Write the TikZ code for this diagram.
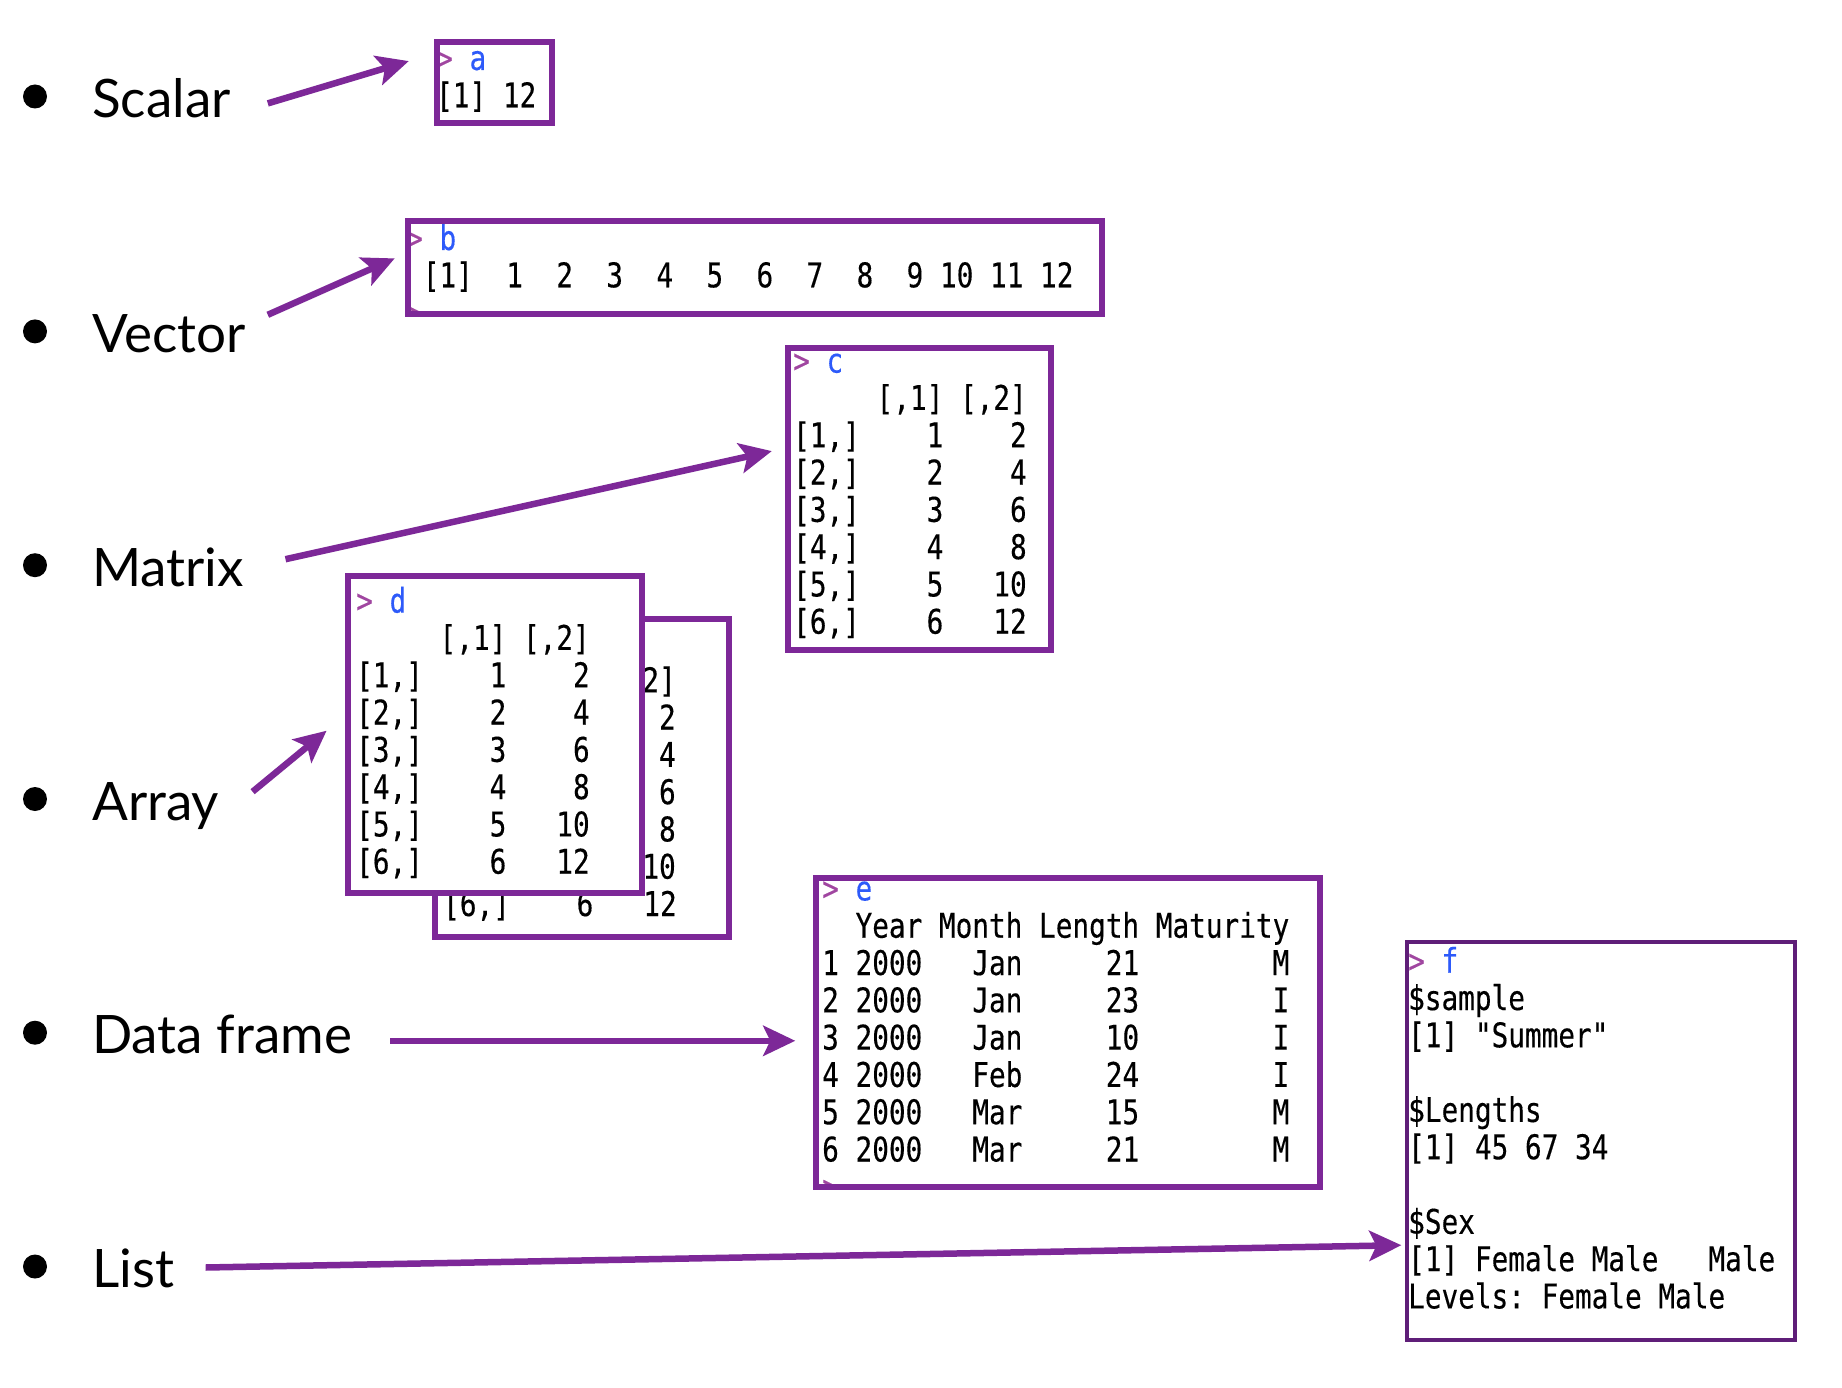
\documentclass[tikz,border=0pt]{standalone}
\usepackage{fontspec}
\usetikzlibrary{arrows.meta}
\newfontfamily\labelfont{Lato}
\newfontfamily\rfont[FakeStretch=0.815,FakeBold=0.3]{DejaVu Sans Mono}
\definecolor{boxc}{RGB}{125,40,152}
\definecolor{boxf}{RGB}{95,30,120}
\definecolor{promptc}{RGB}{160,70,160}
\definecolor{namec}{RGB}{45,90,250}
\newcommand\pr[1]{\textcolor{promptc}{>}~\textcolor{namec}{#1}}
\tikzset{
  rbox/.style={draw=boxc, line width=6pt},
  fbox/.style={draw=boxf, line width=4pt},
  rtext/.style={anchor=base west, inner sep=0pt, font=\rfont\fontsize{34}{37}\selectfont},
  lab/.style={anchor=base west, inner sep=0pt, font=\labelfont\fontsize{53}{60}\selectfont},
  bul/.style={circle, fill=black, inner sep=0pt, minimum size=24pt},
  arr/.style={draw=boxc, line width=6.5pt, -{Stealth[length=32pt,width=30pt,inset=7pt]}},
}
\begin{document}
\begin{tikzpicture}[x=1pt,y=-1pt]
\fill[white] (0,0) rectangle (1842,1388);
\useasboundingbox (0,0) rectangle (1842,1388);

% bullets and labels
\foreach \n/\t/\b in {l1/Scalar/117.5, l2/Vector/352.4, l3/Matrix/586.2, l4/Array/820, l5/Data frame/1053.7, l6/List/1287.5}{
  \node[bul] (b\n) at (35,\b-21) {};
  \node[lab] (\n) at (92,\b) {\t};
}

% box a
\begin{scope}
  \clip (436.5,41.8) rectangle (551.5,122.7);
  \node[rtext] (a1) at (436,70) {\pr{a}};
  \node[rtext] (a2) at (436,107.3) {[1]~12};
\end{scope}
\draw[rbox] (436.5,41.8) rectangle (551.5,122.7);

% box b
\begin{scope}
  \clip (408,221.5) rectangle (1102,314);
  \node[rtext] (b1) at (406,250) {\pr{b}};
  \node[rtext] (b2) at (406,287.3) {~[1]~~1~~2~~3~~4~~5~~6~~7~~8~~9~10~11~12};
  \node[rtext] (b3) at (406,324.6) {\textcolor{promptc}{>}};
\end{scope}
\draw[rbox] (408,221.5) rectangle (1102,314);

% box c
\begin{scope}
  \clip (787.7,348.4) rectangle (1050.7,650);
  \node[rtext] (c1) at (793,372.6) {\pr{c}};
  \node[rtext] (c2) at (793,409.9) {~~~~~[,1]~[,2]};
  \node[rtext] (c3) at (793,447.2) {[1,]~~~~1~~~~2};
  \node[rtext] (c4) at (793,484.5) {[2,]~~~~2~~~~4};
  \node[rtext] (c5) at (793,521.8) {[3,]~~~~3~~~~6};
  \node[rtext] (c6) at (793,559.1) {[4,]~~~~4~~~~8};
  \node[rtext] (c7) at (793,596.4) {[5,]~~~~5~~~10};
  \node[rtext] (c8) at (793,633.7) {[6,]~~~~6~~~12};
\end{scope}
\draw[rbox] (787.7,348.4) rectangle (1050.7,650);

% box d2 (behind): only its visible parts
\begin{scope}
  \clip (435,618.5) rectangle (729,937);
  \node[rtext] (e2x) at (642.2,692.2) {2]};
  \node[rtext] (e3x) at (642.2,729.5) {~2};
  \node[rtext] (e4x) at (642.2,766.8) {~4};
  \node[rtext] (e5x) at (642.2,804.1) {~6};
  \node[rtext] (e6x) at (642.2,841.4) {~8};
  \node[rtext] (e7x) at (642.2,878.7) {10};
  \node[rtext] (e8x) at (443,916.0) {[6,]~~~~6~~~12};
\end{scope}
\draw[rbox] (435,618.5) rectangle (729,937);

% box d (front)
\fill[white] (348.4,576.3) rectangle (642,893);
\begin{scope}
  \clip (348.4,576.3) rectangle (642,893);
  \node[rtext] (d1) at (356,612.6) {\pr{d}};
  \node[rtext] (d2) at (356,649.9) {~~~~~[,1]~[,2]};
  \node[rtext] (d3) at (356,687.2) {[1,]~~~~1~~~~2};
  \node[rtext] (d4) at (356,724.5) {[2,]~~~~2~~~~4};
  \node[rtext] (d5) at (356,761.8) {[3,]~~~~3~~~~6};
  \node[rtext] (d6) at (356,799.1) {[4,]~~~~4~~~~8};
  \node[rtext] (d7) at (356,836.4) {[5,]~~~~5~~~10};
  \node[rtext] (d8) at (356,873.7) {[6,]~~~~6~~~12};
\end{scope}
\draw[rbox] (348.4,576.3) rectangle (642,893);

% box e
\begin{scope}
  \clip (816,878) rectangle (1319.7,1187);
  \node[rtext] (f1x) at (822,900.4) {\pr{e}};
  \node[rtext] (f2x) at (822,937.7) {~~Year~Month~Length~Maturity};
  \node[rtext] (f3x) at (822,975.0) {1~2000~~~Jan~~~~~21~~~~~~~~M};
  \node[rtext] (f4x) at (822,1012.3) {2~2000~~~Jan~~~~~23~~~~~~~~I};
  \node[rtext] (f5x) at (822,1049.6) {3~2000~~~Jan~~~~~10~~~~~~~~I};
  \node[rtext] (f6x) at (822,1086.9) {4~2000~~~Feb~~~~~24~~~~~~~~I};
  \node[rtext] (f7x) at (822,1124.2) {5~2000~~~Mar~~~~~15~~~~~~~~M};
  \node[rtext] (f8x) at (822,1161.5) {6~2000~~~Mar~~~~~21~~~~~~~~M};
  \node[rtext] (f9x) at (822,1198.8) {\textcolor{promptc}{>}};
\end{scope}
\draw[rbox] (816,878) rectangle (1319.7,1187);

% box f
\begin{scope}
  \clip (1407,942) rectangle (1795,1339.5);
  \node[rtext] (g1) at (1408,972.7) {\pr{f}};
  \node[rtext] (g2) at (1408,1010.0) {\$sample};
  \node[rtext] (g3) at (1408,1047.3) {[1]~"Summer"};
  \node[rtext] (g4) at (1408,1121.9) {\$Lengths};
  \node[rtext] (g5) at (1408,1159.2) {[1]~45~67~34};
  \node[rtext] (g6) at (1408,1233.8) {\$Sex};
  \node[rtext] (g7) at (1408,1271.1) {[1]~Female~Male~~~Male};
  \node[rtext] (g8) at (1408,1308.4) {Levels:~Female~Male};
\end{scope}
\draw[fbox] (1407,942) rectangle (1795,1339.5);

% arrows
\coordinate (s1) at (267.8,103.4);  \coordinate (t1) at (408.8,61.1);
\coordinate (s2) at (267.8,314.8);  \coordinate (t2) at (394.7,258.4);
\coordinate (s3) at (285.5,559.2);  \coordinate (t3) at (771.8,451.1);
\coordinate (s4) at (252.6,791.7);  \coordinate (t4) at (326.6,730.7);
\coordinate (s5) at (390,1040.8);   \coordinate (t5) at (795.3,1040.8);
\coordinate (s6) at (205.6,1267.5); \coordinate (t6) at (1401.4,1245.2);
\foreach \i in {1,...,6}{ \draw[arr] (s\i) -- (t\i); }
\end{tikzpicture}
\end{document}
